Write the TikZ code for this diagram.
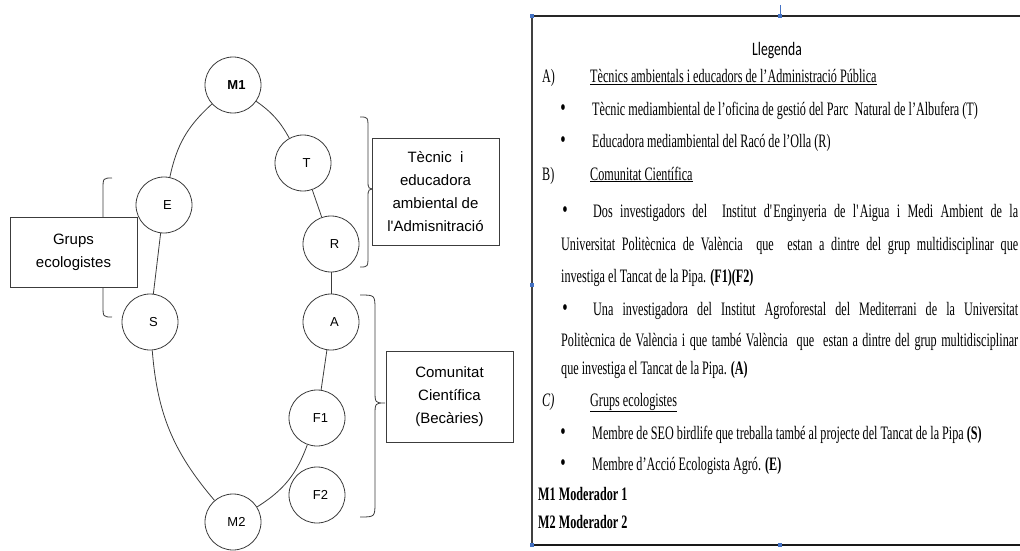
\documentclass[tikz,border=0pt]{standalone}
\usepackage{fontspec}
\setmainfont{Liberation Serif}
\newfontfamily\legfont[FakeStretch=0.64]{Liberation Serif}
\newfontfamily\legtitle[FakeStretch=0.72]{Carlito}
\newfontfamily\diagfont{Liberation Sans}
\definecolor{linec}{RGB}{60,60,60}
\definecolor{handle}{RGB}{68,114,196}
\tikzset{
  circ/.style={circle, draw=linec, line width=0.8pt, minimum size=56pt, inner sep=0pt, fill=white,
    font=\diagfont\fontsize{13}{15}\selectfont, execute at begin node={\hspace*{7pt}}},
  lbox/.style={draw=linec, line width=0.9pt, fill=white, align=center, inner sep=0pt,
    font=\diagfont\fontsize{15}{23}\selectfont},
  conn/.style={draw=linec, line width=0.8pt},
  bracepath/.style={draw=linec, line width=0.8pt},
  leg/.style={anchor=base west, inner sep=0pt, font=\legfont\fontsize{19}{22}\selectfont},
  bul/.style={anchor=base, inner sep=0pt, font=\legfont\fontsize{24}{22}\selectfont},
  hdl/.style={fill=handle, draw=none, minimum size=4pt, inner sep=0pt, rectangle},
}
\begin{document}
\begin{tikzpicture}[x=1pt,y=1pt]
\useasboundingbox (0,0) rectangle (1020,550);

% ---------- braces ----------
% T/R brace
\draw[bracepath] (360,433) .. controls (368,433) .. (368,421) -- (368,370)
  .. controls (368,361) .. (377,361) .. controls (368,361) .. (368,352)
  -- (368,295) .. controls (368,283) .. (360,283);
% Comunitat brace
\draw[bracepath] (360,255) .. controls (375,255) .. (375,240) -- (375,160)
  .. controls (375,147) .. (385,147) .. controls (375,147) .. (375,134)
  -- (375,48) .. controls (375,33) .. (360,33);
% Grups brace (left)
\draw[bracepath] (112,372) .. controls (103,372) .. (103,360) -- (103,314)
  .. controls (103,302) .. (95,302) .. controls (103,302) .. (103,290)
  -- (103,245) .. controls (103,233) .. (112,233);

% ---------- boxes ----------
\node[lbox, minimum width=127pt, minimum height=70pt] (grups) at (73.5,298) {Grups\\ecologistes};
\node[lbox, minimum width=127pt, minimum height=107pt] (tecnic) at (435.5,358.5) {Tècnic\ \ i\\educadora\\ambiental de\\l'Admisnitració};
\node[lbox, minimum width=127pt, minimum height=91pt] (comu) at (449.5,153.5) {Comunitat\\Científica\\(Becàries)};

% ---------- circles ----------
\node[circ] (M1) at (233,465) {\textbf{M1}};
\node[circ] (T)  at (303,387) {T};
\node[circ] (E)  at (164,345) {E};
\node[circ] (R)  at (331,306) {R};
\node[circ] (S)  at (150,228) {S};
\node[circ] (A)  at (331,228) {A};
\node[circ] (F1) at (317,132) {F1};
\node[circ] (F2) at (317,55)  {F2};
\node[circ] (M2) at (233,28)  {M2};

% ---------- connectors ----------
\draw[conn] (M1) to[bend right=18] (E);
\draw[conn] (M1) to[bend left=13] (T);
\draw[conn] (T) -- (R);
\draw[conn] (R) -- (A);
\draw[conn] (E) -- (S);
\draw[conn] (S) to[bend right=18] (M2);
\draw[conn] (A) -- (F1);
\draw[conn] (F1) to[bend left=19] (M2);

% ---------- legend frame ----------
\draw[line width=1.6pt, draw=black!85] (532,534) -- (1030,534);
\draw[line width=1.2pt, draw=black!75] (532,534) -- (532,5);
\draw[line width=2pt, draw=black!90] (532,5) -- (1030,5);
\coordinate (hv1) at (780,545);
\coordinate (hv2) at (780,534);
\draw[handle, line width=0.6pt] (hv1) -- (hv2);
\node[hdl] (h1) at (532,534) {};
\node[hdl] (h2) at (780,534) {};
\node[hdl] (h3) at (532,265) {};
\node[hdl] (h4) at (532,5) {};
\node[hdl] (h5) at (780,5) {};

% ---------- legend text ----------
\node[anchor=base, inner sep=0pt, font=\legtitle\fontsize{19}{22}\selectfont] (ttl) at (777,494) {Llegenda};

\node[leg] (la) at (542,467) {A)};
\node[leg] (lat) at (590,467) {\underline{Tècnics ambientals i educadors de l’Administració Pública}};
\node[bul] (b1) at (563,434) {\textbullet};
\node[leg] (l1) at (592,434) {Tècnic mediambiental de l’oficina de gestió del Parc\ \ Natural de l’Albufera (T)};
\node[bul] (b2) at (563,402) {\textbullet};
\node[leg] (l2) at (592,402) {Educadora mediambiental del Racó de l’Olla (R)};

\node[leg] (lb) at (542,370) {B)};
\node[leg] (lbt) at (590,370) {\underline{Comunitat Científica}};
\node[bul] (b3) at (565,333) {\textbullet};
\node[leg] (l3) at (593,333) {\makebox[425pt][s]{Dos investigadors del\ \ Institut d\textquotesingle Enginyeria de l\textquotesingle Aigua i Medi Ambient de la}};
\node[leg] (l4) at (561,300) {\makebox[457pt][s]{Universitat Politècnica de València\ \ que\ \ estan a dintre del grup multidisciplinar que}};
\node[leg] (l5) at (561,268) {investiga el Tancat de la Pipa. \textbf{(F1)(F2)}};
\node[bul] (b4) at (565,235) {\textbullet};
\node[leg] (l6) at (593,235) {\makebox[425pt][s]{Una investigadora del Institut Agroforestal del Mediterrani de la Universitat}};
\node[leg] (l7) at (561,204) {\makebox[457pt][s]{Politècnica de València i que també València\ \ que\ \ estan a dintre del grup multidisciplinar}};
\node[leg] (l8) at (561,176) {que investiga el Tancat de la Pipa. \textbf{(A)}};

\node[leg] (lc) at (542,144) {\itshape C)};
\node[leg] (lct) at (590,144) {\underline{Grups ecologistes}};
\node[bul] (b5) at (563,111) {\textbullet};
\node[leg] (l9) at (592,111) {Membre de SEO birdlife que treballa també al projecte del Tancat de la Pipa \textbf{(S)}};
\node[bul] (b6) at (563,80) {\textbullet};
\node[leg] (l10) at (592,80) {Membre d’Acció Ecologista Agró. \textbf{(E)}};
\node[leg] (m1) at (538,50) {\textbf{M1 Moderador 1}};
\node[leg] (m2) at (538,22) {\textbf{M2 Moderador 2}};
\end{tikzpicture}
\end{document}
